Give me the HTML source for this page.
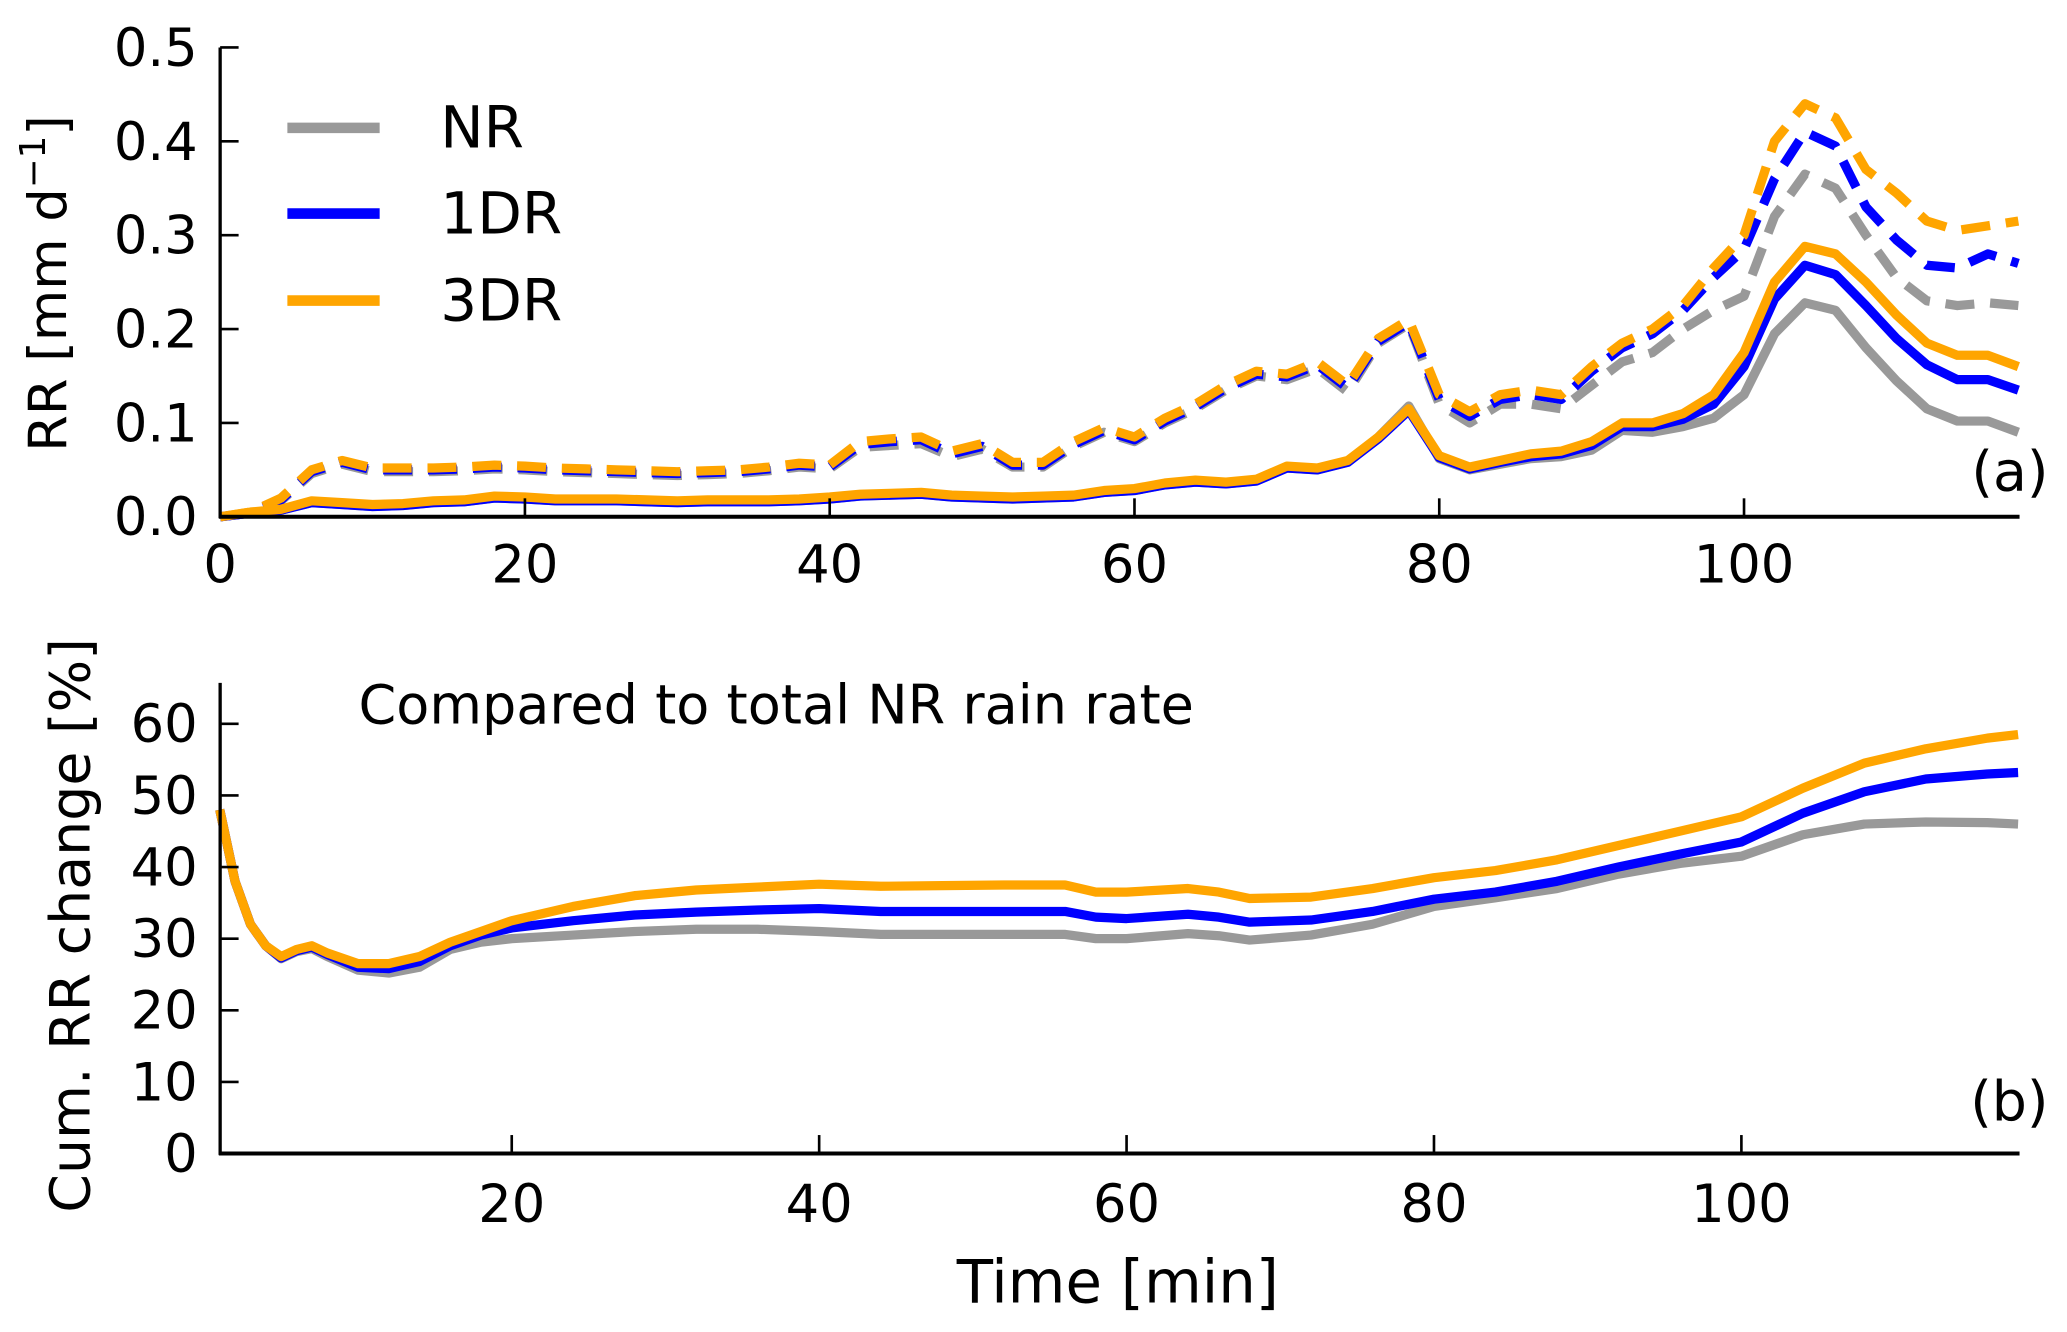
<!DOCTYPE html>
<html><head><meta charset="utf-8">
<style>
html,body{margin:0;padding:0;background:#fff;}
svg{display:block;}
text{font-family:"DejaVu Sans","Liberation Sans",sans-serif;fill:#000;}
</style></head>
<body>
<svg id="chart" width="2067" height="1332" viewBox="0 0 1568 1010.4" preserveAspectRatio="none" xmlns="http://www.w3.org/2000/svg">
<g id="panelA"></g>
<g id="panelB"></g>
</svg>
<script>
// ---- Panel (a) data ----
const timeA = [0,2,4,6,8,10,12,14,16,18,20,22,24,26,28,30,32,34,36,38,40,42,44,46,48,50,52,54,56,58,60,62,64,66,68,70,72,74,76,78,80,82,84,86,88,90,92,94,96,98,100,102,104,106,108,110,112,114,116,118];
const solid3DR = [0,.005,.008,.017,.015,.013,.014,.017,.018,.022,.021,.019,.019,.019,.018,.017,.018,.018,.018,.019,.021,.024,.025,.026,.023,.022,.021,.022,.023,.028,.030,.036,.039,.037,.040,.054,.052,.060,.085,.115,.065,.053,.060,.067,.070,.080,.100,.100,.110,.130,.175,.250,.288,.280,.250,.215,.185,.172,.172,.160];
const solid1DR = [0,.004,.007,.015,.013,.011,.012,.015,.016,.020,.019,.017,.017,.017,.016,.015,.016,.016,.016,.017,.019,.022,.023,.024,.021,.020,.019,.020,.021,.026,.028,.034,.037,.035,.038,.052,.050,.058,.083,.113,.063,.051,.058,.064,.067,.076,.096,.096,.104,.120,.160,.232,.268,.258,.225,.190,.162,.146,.146,.135];
const solidNR = [0,.004,.007,.015,.013,.011,.012,.015,.016,.020,.019,.017,.017,.017,.016,.015,.016,.016,.016,.017,.019,.022,.023,.024,.021,.020,.019,.020,.021,.026,.028,.034,.037,.035,.038,.052,.050,.058,.085,.118,.062,.050,.056,.062,.064,.071,.092,.090,.096,.105,.130,.195,.228,.220,.180,.145,.115,.102,.102,.090];
const dash3DR = [0,.005,.020,.050,.060,.052,.052,.052,.053,.055,.054,.052,.051,.050,.049,.048,.049,.050,.053,.057,.055,.080,.083,.085,.070,.078,.058,.058,.080,.095,.085,.105,.120,.140,.155,.152,.165,.140,.190,.210,.130,.112,.130,.135,.130,.160,.185,.200,.225,.265,.300,.400,.440,.425,.370,.345,.315,.305,.310,.315];
const dash1DR = [0,.004,.018,.048,.058,.050,.050,.050,.051,.053,.052,.050,.049,.048,.047,.046,.047,.048,.051,.055,.053,.077,.080,.082,.067,.075,.055,.055,.077,.092,.082,.102,.117,.137,.152,.149,.162,.137,.187,.207,.125,.107,.125,.130,.125,.155,.180,.195,.220,.255,.285,.360,.410,.395,.330,.295,.268,.265,.280,.270];
const dashNR = [0,.004,.017,.046,.056,.048,.048,.048,.049,.051,.050,.048,.047,.046,.045,.044,.045,.046,.049,.053,.051,.074,.076,.078,.064,.072,.053,.053,.075,.090,.080,.100,.115,.135,.150,.146,.158,.133,.185,.205,.120,.100,.120,.120,.115,.140,.165,.175,.200,.220,.235,.320,.365,.350,.300,.255,.230,.225,.228,.225];
const ticksA_y = ["0.0","0.1","0.2","0.3","0.4","0.5"];
const ticksA_x = [0,20,40,60,80,100];
// ---- Panel (b) data ----
const timeB = [1,2,3,4,5,6,7,8,10,12,14,16,18,20,24,28,32,36,40,44,48,52,56,58,60,64,66,68,72,76,80,84,88,92,96,100,104,108,112,116,118];
const cum3DR = [48,38,32,29,27.5,28.5,29,28,26.5,26.5,27.5,29.5,31,32.5,34.5,36,36.8,37.2,37.6,37.3,37.4,37.5,37.5,36.5,36.5,37,36.5,35.6,35.8,37,38.5,39.5,41,43,45,47,51,54.5,56.5,58,58.5];
const cum1DR = [48,38,32,29,27.3,28.3,28.8,27.8,26,25.8,26.8,29,30.5,31.5,32.5,33.3,33.7,34,34.2,33.8,33.8,33.8,33.8,33,32.8,33.4,33,32.3,32.6,33.8,35.5,36.5,38,40,41.8,43.5,47.5,50.5,52.3,53,53.2];
const cumNR = [48,38,32,29,27.2,28.2,28.6,27.5,25.6,25.2,26,28.5,29.5,30,30.5,31,31.3,31.3,31,30.6,30.6,30.6,30.6,30,30,30.7,30.4,29.8,30.5,32,34.5,35.7,37,39,40.5,41.5,44.5,46,46.3,46.2,46];
const ticksB_y = [0,10,20,30,40,50,60];
const ticksB_x = [20,40,60,80,100];

const NS="http://www.w3.org/2000/svg";
function mk(parent,tag,attrs){const e=document.createElementNS(NS,tag);for(const k in attrs)e.setAttribute(k,attrs[k]);parent.appendChild(e);return e;}
const COL={NR:"#999999",D1:"#0000ff",D3:"#ffa500"};
const TF=40;

const xA=t=>167+t*11.56;
const yA=v=>392-v*712;
const xB=t=>155+t*11.66;
const yB=v=>875-v*5.433;

const gTop=document.getElementById('panelA');
const gBot=document.getElementById('panelB');

function series(g,xs,ys,xf,yf,color,dashed,name){
  const d=xs.map((t,i)=>(i?'L':'M')+xf(t).toFixed(1)+','+yf(ys[i]).toFixed(1)).join(' ');
  const p=mk(g,'path',{d:d,fill:'none',stroke:color,'stroke-width':7,'stroke-linejoin':'round'});
  if(dashed)p.setAttribute('stroke-dasharray','22 12');
  
  
}
series(gTop,timeA,dashNR,xA,yA,COL.NR,true,'line-nr-dashed');
series(gTop,timeA,dash1DR,xA,yA,COL.D1,true,'line-1dr-dashed');
series(gTop,timeA,dash3DR,xA,yA,COL.D3,true,'line-3dr-dashed');
series(gTop,timeA,solidNR,xA,yA,COL.NR,false,'line-nr-solid');
series(gTop,timeA,solid1DR,xA,yA,COL.D1,false,'line-1dr-solid');
series(gTop,timeA,solid3DR,xA,yA,COL.D3,false,'line-3dr-solid');
let ax=mk(gTop,'line',{x1:167,y1:36,x2:167,y2:393,stroke:'#000','stroke-width':2.5});


ax=mk(gTop,'line',{x1:166,y1:392,x2:1532,y2:392,stroke:'#000','stroke-width':3});


ticksA_y.forEach(l=>{const y=yA(parseFloat(l));
  mk(gTop,'line',{x1:167,y1:y,x2:181,y2:y,stroke:'#000','stroke-width':2});
  const t=mk(gTop,'text',{x:150,y:y+14,'font-size':TF,'text-anchor':'end'});t.textContent=l;
  
  });
ticksA_x.forEach(v=>{const x=xA(v);
  mk(gTop,'line',{x1:x,y1:392,x2:x,y2:378,stroke:'#000','stroke-width':2});
  const t=mk(gTop,'text',{x:x,y:442,'font-size':TF,'text-anchor':'middle'});t.textContent=v;
  
  });
let lab=mk(gTop,'text',{x:0,y:0,'font-size':40,'text-anchor':'middle',transform:'translate(50,215) rotate(-90)'});
lab.innerHTML='RR [mm d<tspan dy="-16" font-size="27">−1</tspan><tspan dy="16">]</tspan>';


lab=mk(gTop,'text',{x:1554,y:372,'font-size':42,'text-anchor':'end'});lab.textContent='(a)';


[['NR',COL.NR,97],['1DR',COL.D1,162],['3DR',COL.D3,228]].forEach(([n,c,y])=>{
  const l=mk(gTop,'line',{x1:218,y1:y,x2:288,y2:y,stroke:c,'stroke-width':8});
  
  
  const t=mk(gTop,'text',{x:334,y:y+15,'font-size':44});t.textContent=n;
  
  });

series(gBot,timeB,cumNR,xB,yB,COL.NR,false,'cum-line-nr');
series(gBot,timeB,cum1DR,xB,yB,COL.D1,false,'cum-line-1dr');
series(gBot,timeB,cum3DR,xB,yB,COL.D3,false,'cum-line-3dr');
ax=mk(gBot,'line',{x1:167,y1:518,x2:167,y2:876,stroke:'#000','stroke-width':2.5});


ax=mk(gBot,'line',{x1:166,y1:875,x2:1532,y2:875,stroke:'#000','stroke-width':3});


ticksB_y.forEach(v=>{const y=yB(v);
  mk(gBot,'line',{x1:167,y1:y,x2:181,y2:y,stroke:'#000','stroke-width':2});
  const t=mk(gBot,'text',{x:150,y:y+14,'font-size':TF,'text-anchor':'end'});t.textContent=v;
  
  });
ticksB_x.forEach(v=>{const x=xB(v);
  mk(gBot,'line',{x1:x,y1:875,x2:x,y2:861,stroke:'#000','stroke-width':2});
  const t=mk(gBot,'text',{x:x,y:927,'font-size':TF,'text-anchor':'middle'});t.textContent=v;
  
  });
lab=mk(gBot,'text',{x:0,y:0,'font-size':42,'text-anchor':'middle',transform:'translate(68,702) rotate(-90)'});
lab.textContent='Cum. RR change [%]';


lab=mk(gBot,'text',{x:848,y:988,'font-size':45,'text-anchor':'middle'});lab.textContent='Time [min]';


lab=mk(gBot,'text',{x:272,y:549,'font-size':41});lab.textContent='Compared to total NR rain rate';


lab=mk(gBot,'text',{x:1554,y:850,'font-size':42,'text-anchor':'end'});lab.textContent='(b)';


</script>
</body></html>
